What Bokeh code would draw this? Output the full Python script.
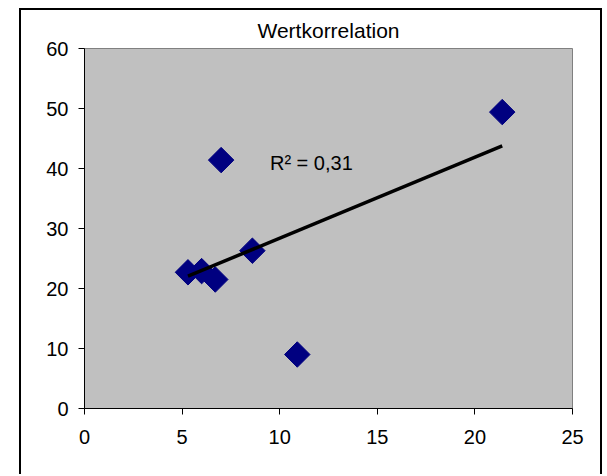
import numpy as np
from bokeh.plotting import figure
from bokeh.models import Range1d, FixedTicker, Label
from bokeh.embed import file_html
from bokeh.resources import INLINE

# ---- data ----
title_text = "Wertkorrelation"
x_vals = [5.3, 6.0, 6.7, 7.0, 8.6, 10.9, 21.4]
y_vals = [22.7, 22.9, 21.5, 41.4, 26.3, 9.0, 49.4]
x_ticks = [0, 5, 10, 15, 20, 25]
y_ticks = [0, 10, 20, 30, 40, 50, 60]

# linear trendline and R^2 computed from the points
xa = np.array(x_vals)
ya = np.array(y_vals)
slope, intercept = np.polyfit(xa, ya, 1)
r2 = np.corrcoef(xa, ya)[0, 1] ** 2
r2_text = "R\u00b2 = " + f"{r2:.2f}".replace(".", ",")
trend_x = [xa.min(), xa.max()]
trend_y = [slope * v + intercept for v in trend_x]

FONT = "Liberation Sans"

p = figure(width=583, height=466, output_backend="svg", toolbar_location=None,
           x_range=Range1d(0, 25), y_range=Range1d(0, 60),
           min_border_left=63, min_border_right=32, min_border_top=38,
           min_border_bottom=68)
p.styles = {"border-style": "solid", "border-color": "black",
            "border-width": "2px 2px 0px 2px",
            "margin-left": "19px", "margin-top": "8px"}

p.background_fill_color = "#C0C0C0"
p.border_fill_color = "white"
p.outline_line_color = "#808080"
p.outline_line_width = 1
p.grid.visible = False

p.title.text = title_text
p.title.text_font = FONT
p.title.text_font_size = "21px"
p.title.text_font_style = "normal"
p.title.text_color = "black"
p.title.align = "center"
p.title.vertical_align = "top"
p.title.standoff = 10

for ax in (p.xaxis[0], p.yaxis[0]):
    ax.axis_line_color = "black"
    ax.axis_line_width = 1
    ax.major_tick_line_color = "black"
    ax.major_tick_out = 6
    ax.major_tick_in = 0
    ax.minor_tick_line_color = None
    ax.major_label_text_font = FONT
    ax.major_label_text_font_size = "20px"
    ax.major_label_text_color = "black"

p.xaxis.ticker = FixedTicker(ticks=x_ticks)
p.yaxis.ticker = FixedTicker(ticks=y_ticks)
p.xaxis.major_label_standoff = 15
p.yaxis.major_label_standoff = 10

p.scatter(x_vals, y_vals, marker="square", angle=np.pi / 4, size=18,
          fill_color="#000080", line_color="#000080")
p.line(trend_x, trend_y, line_color="black", line_width=3.5)

p.add_layout(Label(x=9.5, y=41, text=r2_text, text_font=FONT,
                   text_font_size="20px", text_color="black",
                   text_align="left", text_baseline="middle"))

open("out.html", "w").write(file_html(p, INLINE))
